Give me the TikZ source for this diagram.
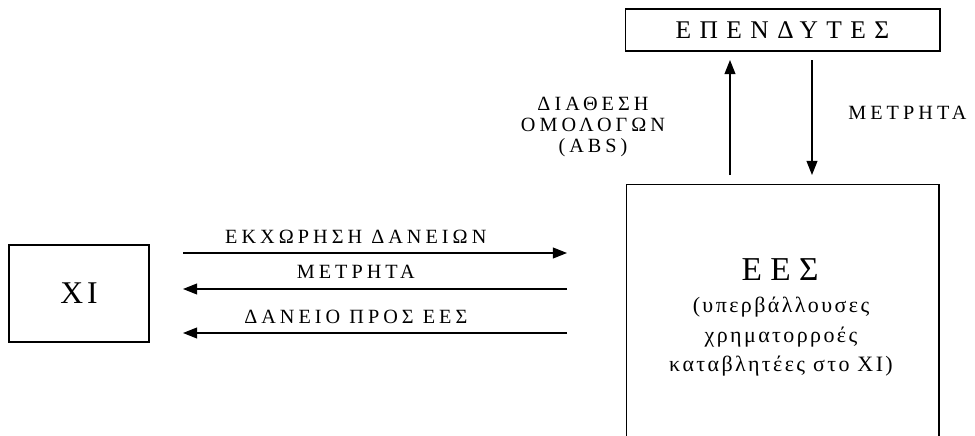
\documentclass[tikz,border=0pt]{standalone}
\usepackage{fontspec}
\setmainfont{Liberation Serif}
\usetikzlibrary{arrows.meta}

\tikzset{
  box/.style={draw, line width=0.6pt, inner sep=0pt},
  flow/.style={line width=0.7pt, -{Triangle[length=8pt,width=6.2pt]}},
  lbl/.style={inner sep=0pt, font=\fontsize{11.5}{12.2}\selectfont\addfontfeature{LetterSpace=20}},
}

\begin{document}
\begin{tikzpicture}[x=0.02cm, y=-0.02cm]
  % units are pixels of the original sketch, y grows downwards
  \useasboundingbox (0,0) rectangle (975,436);

  % the three parties
  \node[box, minimum width=2.8cm, minimum height=1.94cm,
        font=\fontsize{18}{20}\selectfont\addfontfeature{LetterSpace=12}] (xi) at (79,293.5) {ΧΙ};
  \node[box, minimum width=6.3cm, minimum height=0.84cm,
        font=\fontsize{14.5}{15}\selectfont\addfontfeature{LetterSpace=33}] (inv) at (782.5,30) {ΕΠΕΝΔΥΤΕΣ};
  \node[box, minimum width=6.26cm, minimum height=5.32cm] (ees) at (782.5,317) {};
  \node[inner sep=0pt, font=\fontsize{19}{20}\selectfont\addfontfeature{LetterSpace=25}] (eestitle) at (780,270) {ΕΕΣ};
  \node[inner sep=0pt, align=center,
        font=\fontsize{12.5}{16.8}\selectfont\addfontfeature{LetterSpace=11}] (eesnote) at (781,337)
        {(υπερβάλλουσες\\χρηματορροές\\καταβλητέες στο ΧΙ)};

  % ends of the flows
  \coordinate (h1l) at (183,253);  \coordinate (h1r) at (567,253);
  \coordinate (h2l) at (183,289);  \coordinate (h2r) at (567,289);
  \coordinate (h3l) at (183,333);  \coordinate (h3r) at (567,333);
  \coordinate (upb) at (730,175);  \coordinate (upt) at (730,60);
  \coordinate (dnt) at (812,60);   \coordinate (dnb) at (812,175);

  % XI <-> EES
  \draw[flow] (h1l) -- (h1r) node[lbl, pos=0.45, above=5pt] (t1) {ΕΚΧΩΡΗΣΗ ΔΑΝΕΙΩΝ};
  \draw[flow] (h2r) -- (h2l) node[lbl, pos=0.55, above=5.5pt] (t2) {ΜΕΤΡΗΤΑ};
  \draw[flow] (h3r) -- (h3l) node[lbl, pos=0.55, above=5pt] (t3) {ΔΑΝΕΙΟ ΠΡΟΣ ΕΕΣ};

  % EES <-> investors
  \draw[flow] (upb) -- (upt);
  \draw[flow] (dnt) -- (dnb);
  \node[lbl, align=center] (t4) at (593,127) {ΔΙΑΘΕΣΗ\\ΟΜΟΛΟΓΩΝ\\(ABS)};
  \node[lbl, anchor=west] (t5) at (848,113) {ΜΕΤΡΗΤΑ};
\end{tikzpicture}
\end{document}
